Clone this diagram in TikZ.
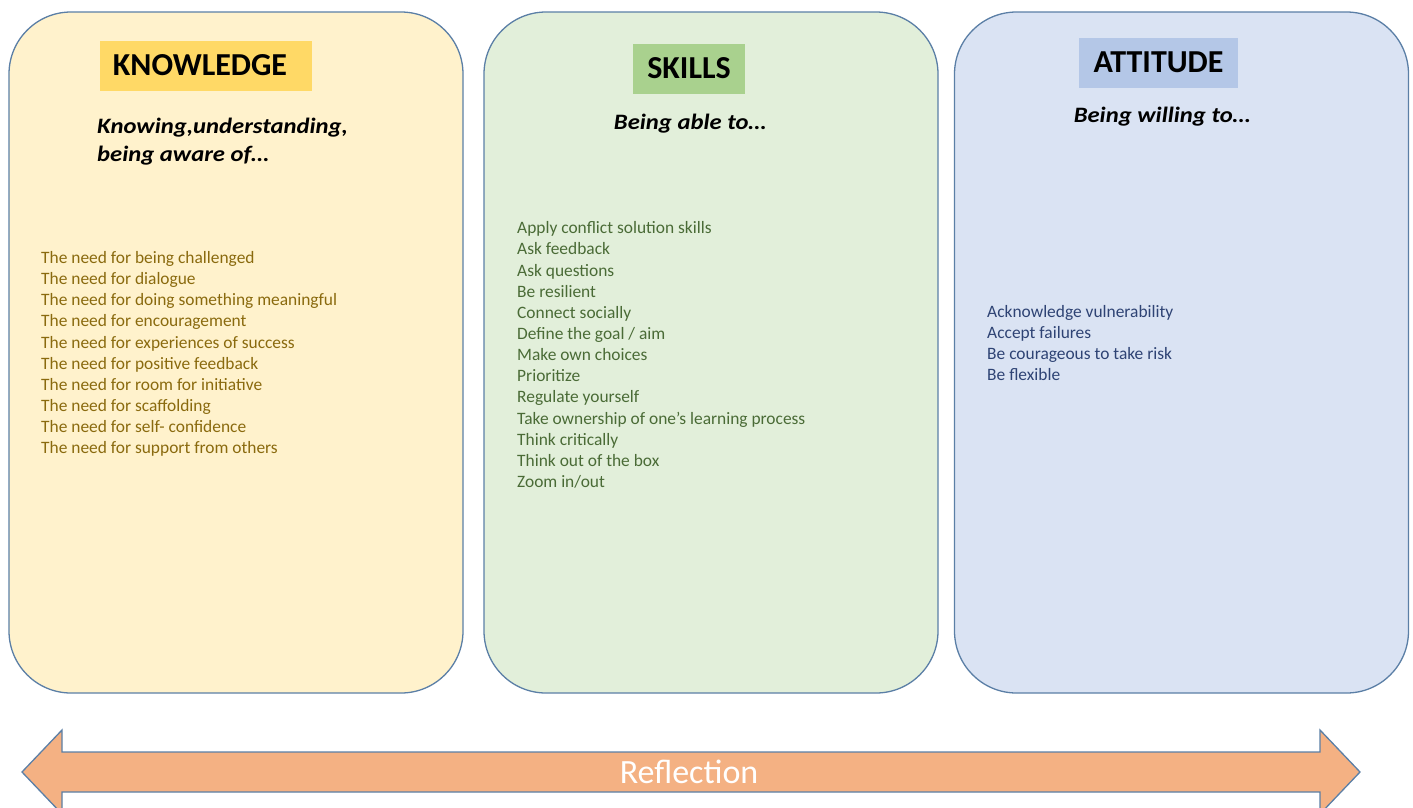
\documentclass[tikz,border=0pt]{standalone}
\usepackage{fontspec}
\setmainfont{Carlito}
\definecolor{edge}{HTML}{5B7FA6}
\definecolor{knowfill}{HTML}{FFF2CC}
\definecolor{skillfill}{HTML}{E2EFDA}
\definecolor{attfill}{HTML}{DAE3F3}
\definecolor{knowtag}{HTML}{FFD966}
\definecolor{skilltag}{HTML}{A9D18E}
\definecolor{atttag}{HTML}{B4C7E7}
\definecolor{knowtext}{HTML}{8A6A0E}
\definecolor{skilltext}{HTML}{4A6B36}
\definecolor{atttext}{HTML}{2E4374}
\definecolor{reflfill}{HTML}{F4B183}
\tikzset{
  panel/.style = {draw=edge, line width=1.3pt, rounded corners=62pt,
    minimum width=454pt, minimum height=681pt, inner sep=0pt},
  tag/.style = {inner sep=0pt, minimum height=50pt,
    font=\fontsize{32}{38}\selectfont\bfseries},
  lead/.style = {inner sep=0pt, align=left,
    font=\fontsize{22}{28}\selectfont\bfseries\itshape\addfontfeatures{FakeStretch=1.12}},
  items/.style = {inner sep=0pt, align=left, anchor=west,
    font=\fontsize{17.4}{21.15}\selectfont},
}
\begin{document}
\begin{tikzpicture}[x=1pt, y=-1pt]
  \useasboundingbox (0,0) rectangle (1413,807);
  \clip (0,0) rectangle (1413,807);
  % the three panels
  \draw
    node [panel, fill=knowfill] (know) at (236,352.5) {}
    node [panel, fill=skillfill] (skill) at (711,352.5) {}
    node [panel, fill=attfill] (att) at (1181.5,352.5) {};
  % headings
  \draw
    node [tag, fill=knowtag, minimum width=212pt] (knowtag) at (206,65.5) {KNOWLEDGE\kern12pt}
    node [tag, fill=skilltag, minimum width=112pt] (skilltag) at (689,68.5) {SKILLS}
    node [tag, fill=atttag, minimum width=159pt] (atttag) at (1158.5,62.5) {ATTITUDE}
    node [lead, anchor=west] (knowlead) at (97,142) {Knowing,understanding,\\being aware of…}
    node [lead] (skilllead) at (690,124) {Being able to…}
    node [lead] (attlead) at (1162,117) {Being willing to…};
  % lists
  \draw
    node [items, text=knowtext] (knowlist) at (41,354) {%
      The need for being challenged\\
      The need for dialogue\\
      The need for doing something meaningful\\
      The need for encouragement\\
      The need for experiences of success\\
      The need for positive feedback\\
      The need for room for initiative\\
      The need for scaffolding\\
      The need for self- confidence\\
      The need for support from others}
    node [items, text=skilltext] (skilllist) at (517,355) {%
      Apply conflict solution skills\\
      Ask feedback\\
      Ask questions\\
      Be resilient\\
      Connect socially\\
      Define the goal / aim\\
      Make own choices\\
      Prioritize\\
      Regulate yourself\\
      Take ownership of one’s learning process\\
      Think critically\\
      Think out of the box\\
      Zoom in/out}
    node [items, text=atttext] (attlist) at (987,343) {%
      Acknowledge vulnerability\\
      Accept failures\\
      Be courageous to take risk\\
      Be flexible};
  % reflection arrow
  \draw [draw=edge, line width=1.3pt, fill=reflfill]
    (22,772) -- (62,730) -- (62,752) -- (1320,752) -- (1320,730)
    -- (1360,772) -- (1320,814) -- (1320,792) -- (62,792) -- (62,814) -- cycle;
  \node [text=white, font=\fontsize{34}{40}\selectfont] (refl) at (689,772) {Reflection};
\end{tikzpicture}
\end{document}
